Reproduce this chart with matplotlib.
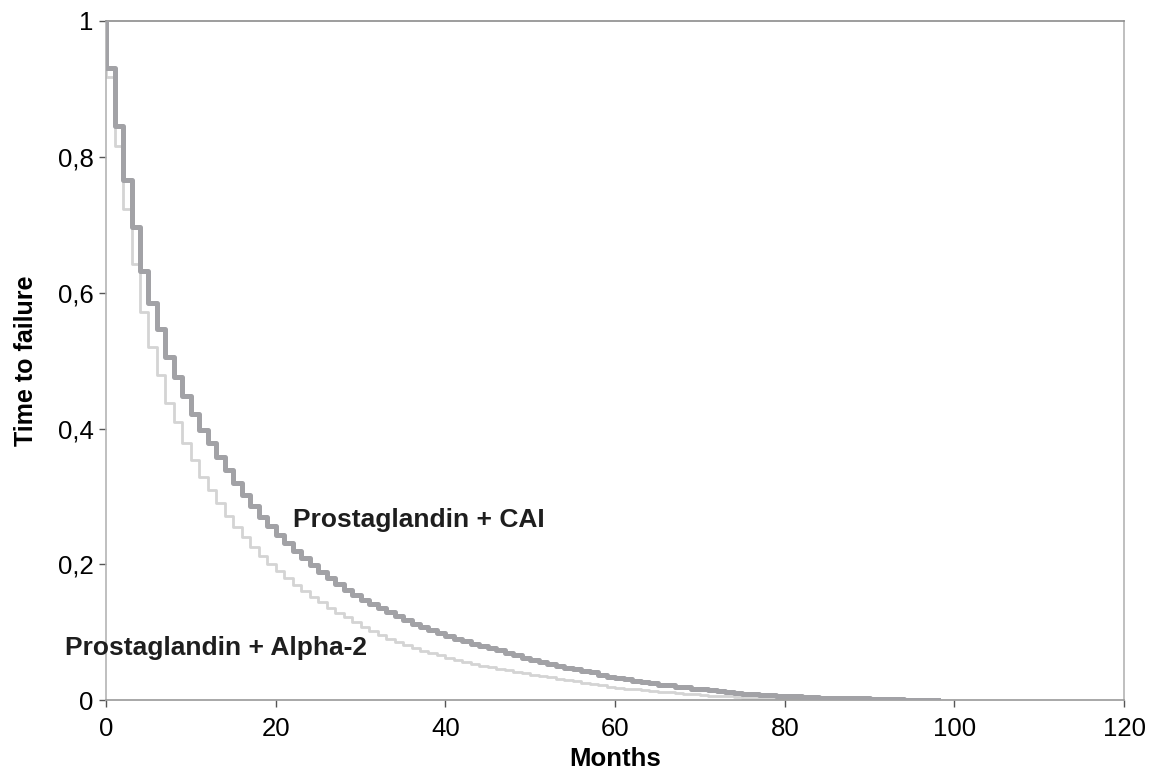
import numpy as np
import matplotlib.pyplot as plt

# survival, one value per month interval [t, t+1)
cai = [0.930, 0.845, 0.766, 0.696, 0.632, 0.585, 0.546, 0.506, 0.476, 0.448,
       0.422, 0.398, 0.378, 0.358, 0.339, 0.320, 0.302, 0.286, 0.270, 0.256,
       0.243, 0.231, 0.220, 0.209, 0.199, 0.189, 0.180, 0.171, 0.163, 0.155,
       0.148, 0.142, 0.136, 0.130, 0.124, 0.118, 0.113, 0.108, 0.103, 0.099,
       0.095, 0.091, 0.087, 0.083, 0.080, 0.077, 0.074, 0.070, 0.067, 0.063,
       0.059, 0.056, 0.053, 0.050, 0.048, 0.046, 0.043, 0.041, 0.038, 0.035,
       0.033, 0.031, 0.029, 0.027, 0.025, 0.023, 0.022, 0.020, 0.019, 0.017,
       0.016, 0.015, 0.014, 0.012, 0.011, 0.010, 0.009, 0.008, 0.008, 0.007,
       0.006, 0.006, 0.005, 0.005, 0.004, 0.004, 0.004, 0.003, 0.003, 0.003,
       0.002, 0.002, 0.002, 0.002, 0.001, 0.001, 0.001, 0.001, 0.000]

alpha2 = [0.917, 0.816, 0.723, 0.642, 0.572, 0.520, 0.479, 0.438, 0.409, 0.379,
          0.354, 0.329, 0.310, 0.291, 0.272, 0.255, 0.240, 0.226, 0.213, 0.201,
          0.190, 0.180, 0.170, 0.161, 0.152, 0.144, 0.136, 0.129, 0.122, 0.115,
          0.108, 0.102, 0.096, 0.091, 0.086, 0.082, 0.077, 0.073, 0.069, 0.066,
          0.063, 0.060, 0.057, 0.054, 0.051, 0.049, 0.046, 0.044, 0.042, 0.040,
          0.038, 0.036, 0.034, 0.032, 0.030, 0.028, 0.026, 0.024, 0.022, 0.020,
          0.018, 0.017, 0.016, 0.015, 0.014, 0.013, 0.012, 0.011, 0.010, 0.009,
          0.008, 0.007, 0.006, 0.006, 0.005, 0.004, 0.004, 0.003, 0.003, 0.002,
          0.002, 0.002, 0.001, 0.001, 0.001, 0.001, 0.000]

y_ticks = [0, 0.2, 0.4, 0.6, 0.8, 1]
y_tick_labels = ['0', '0,2', '0,4', '0,6', '0,8', '1']
x_ticks = [0, 20, 40, 60, 80, 100, 120]

m_cai = np.r_[0, np.arange(len(cai))]
m_alpha = np.r_[0, np.arange(len(alpha2))]

plt.rcParams['font.family'] = ['Liberation Sans', 'DejaVu Sans']

fig = plt.figure(figsize=(11.53, 7.73), dpi=100)
ax = fig.add_axes([0.092, 0.094, 0.883, 0.879])

ax.step(m_alpha, np.r_[1.0, alpha2], where='post', color='#d4d4d4', lw=2.0, zorder=2)
ax.step(m_cai, np.r_[1.0, cai], where='post', color='#a2a2a6', lw=3.6, zorder=3)

ax.set_xlim(0, 120)
ax.set_ylim(0, 1)
ax.set_xticks(x_ticks)
ax.set_xticklabels([str(v) for v in x_ticks], fontsize=18.5)
ax.set_yticks(y_ticks)
ax.set_yticklabels(y_tick_labels, fontsize=18.5)
ax.tick_params(axis='x', direction='out', length=5, width=1, color='#555555', pad=7)
ax.tick_params(axis='y', direction='out', length=5, width=1, color='#555555', pad=4)

ax.spines['top'].set_color('#8c8c8c')
ax.spines['right'].set_color('#b4b4b4')
ax.spines['bottom'].set_color('#9a9a9a')
ax.spines['left'].set_color('#b4b4b4')
for side in ['top', 'right', 'bottom', 'left']:
    ax.spines[side].set_linewidth(1.2)

ax.set_xlabel('Months', fontweight='bold', fontsize=18.5, labelpad=4)
ax.set_ylabel('Time to failure', fontweight='bold', fontsize=18, labelpad=14)

ax.text(22.0, 0.255, 'Prostaglandin + CAI', fontweight='bold', fontsize=19,
        va='baseline', ha='left', color='#1e1e1e')
ax.text(-4.9, 0.066, 'Prostaglandin + Alpha-2', fontweight='bold', fontsize=19,
        va='baseline', ha='left', color='#1e1e1e', clip_on=False)

fig.savefig('out.png', dpi=100)
